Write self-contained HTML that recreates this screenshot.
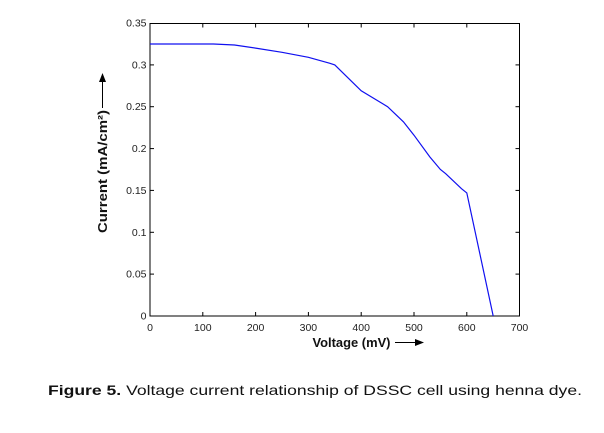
<!DOCTYPE html>
<html><head><meta charset="utf-8"><style>
html,body{margin:0;padding:0;background:#fff;}
svg{display:block;}
</style></head><body>
<svg width="604" height="433" viewBox="0 0 604 433" xmlns="http://www.w3.org/2000/svg">
<rect x="0" y="0" width="604" height="433" fill="#fff"/>
<!-- axes box -->
<rect x="150" y="23.5" width="369.5" height="292.5" fill="none" stroke="#000" stroke-width="1"/>
<g stroke="#000" stroke-width="1">
<!-- x ticks bottom & top -->
<line x1="202.8" y1="316" x2="202.8" y2="312"/><line x1="202.8" y1="23.5" x2="202.8" y2="27.5"/>
<line x1="255.6" y1="316" x2="255.6" y2="312"/><line x1="255.6" y1="23.5" x2="255.6" y2="27.5"/>
<line x1="308.4" y1="316" x2="308.4" y2="312"/><line x1="308.4" y1="23.5" x2="308.4" y2="27.5"/>
<line x1="361.2" y1="316" x2="361.2" y2="312"/><line x1="361.2" y1="23.5" x2="361.2" y2="27.5"/>
<line x1="414" y1="316" x2="414" y2="312"/><line x1="414" y1="23.5" x2="414" y2="27.5"/>
<line x1="466.8" y1="316" x2="466.8" y2="312"/><line x1="466.8" y1="23.5" x2="466.8" y2="27.5"/>
<!-- y ticks left & right -->
<line x1="150" y1="274.1" x2="154" y2="274.1"/><line x1="519.5" y1="274.1" x2="515.5" y2="274.1"/>
<line x1="150" y1="232.3" x2="154" y2="232.3"/><line x1="519.5" y1="232.3" x2="515.5" y2="232.3"/>
<line x1="150" y1="190.4" x2="154" y2="190.4"/><line x1="519.5" y1="190.4" x2="515.5" y2="190.4"/>
<line x1="150" y1="148.6" x2="154" y2="148.6"/><line x1="519.5" y1="148.6" x2="515.5" y2="148.6"/>
<line x1="150" y1="106.7" x2="154" y2="106.7"/><line x1="519.5" y1="106.7" x2="515.5" y2="106.7"/>
<line x1="150" y1="64.9" x2="154" y2="64.9"/><line x1="519.5" y1="64.9" x2="515.5" y2="64.9"/>
</g>
<!-- y tick labels -->
<g font-family="Liberation Sans, sans-serif" font-size="10.5" fill="#222" text-anchor="end">
<text x="146.5" y="319.5">0</text>
<text x="146.5" y="277.6">0.05</text>
<text x="146.5" y="235.8">0.1</text>
<text x="146.5" y="193.9">0.15</text>
<text x="146.5" y="152.1">0.2</text>
<text x="146.5" y="110.2">0.25</text>
<text x="146.5" y="68.4">0.3</text>
<text x="146.5" y="26.5">0.35</text>
</g>
<!-- x tick labels -->
<g font-family="Liberation Sans, sans-serif" font-size="10.5" fill="#222" text-anchor="middle">
<text x="150" y="331">0</text>
<text x="202.8" y="331">100</text>
<text x="255.6" y="331">200</text>
<text x="308.4" y="331">300</text>
<text x="361.2" y="331">400</text>
<text x="414" y="331">500</text>
<text x="466.8" y="331">600</text>
<text x="519.5" y="331">700</text>
</g>
<!-- curve -->
<polyline fill="none" stroke="#1010f0" stroke-width="1.2" points="150,44 213.4,44 234.5,45 255.6,48.1 282,52.3 308.4,57.3 329.5,63.2 334.8,64.9 361.2,90.8 387.6,106.7 403.4,121.8 414,135.2 429.8,156.9 440.4,169.5 445.7,173.7 461.5,188.7 466.8,192.9 493.2,316"/>
<!-- x axis label -->
<text x="312.5" y="347" font-family="Liberation Sans, sans-serif" font-size="12.5" font-weight="bold" fill="#111" textLength="78" lengthAdjust="spacingAndGlyphs">Voltage (mV)</text>
<line x1="395" y1="342.5" x2="417" y2="342.5" stroke="#000" stroke-width="1"/>
<polygon points="424,342.5 415,339 415,346" fill="#000"/>
<!-- y axis label -->
<text transform="translate(107,233) rotate(-90)" font-family="Liberation Sans, sans-serif" font-size="12.5" font-weight="bold" fill="#111" textLength="123" lengthAdjust="spacingAndGlyphs">Current (mA/cm²)</text>
<line x1="102.5" y1="108" x2="102.5" y2="80" stroke="#000" stroke-width="1"/>
<polygon points="102.5,73 99,82 106,82" fill="#000"/>
<!-- caption -->
<text x="48" y="395" font-family="Liberation Sans, sans-serif" font-size="14" fill="#111" textLength="534" lengthAdjust="spacingAndGlyphs"><tspan font-weight="bold">Figure 5.</tspan> Voltage current relationship of DSSC cell using henna dye.</text>
</svg>
</body></html>
